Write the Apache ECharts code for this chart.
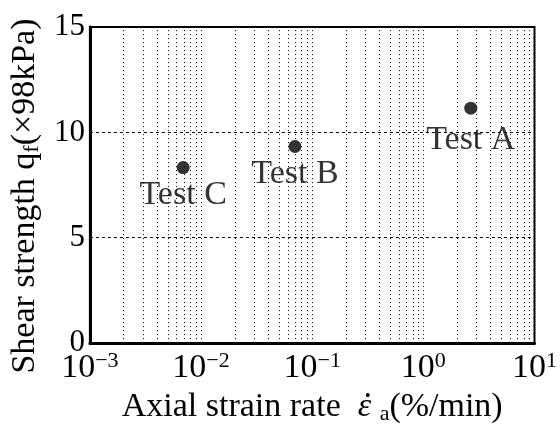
<!DOCTYPE html>
<html>
<head>
<meta charset="utf-8">
<script src="https://cdn.jsdelivr.net/npm/echarts@6/dist/echarts.min.js"></script>
<style>html,body{margin:0;padding:0;background:#fff}#c{width:560px;height:430px}</style>
</head>
<body>
<div id="c"></div>
<script>
// ---- data ----
const testNames = ['Test C', 'Test B', 'Test A'];
const strainRates = [0.0069, 0.070, 2.67];      // %/min
const shearStrengths = [8.33, 9.33, 11.15];     // x98kPa
const xTickExponents = [-3, -2, -1, 0, 1];
const yTicks = [0, 5, 10, 15];

const FONT = '"Liberation Serif", "Times New Roman", serif';
const chart = echarts.init(document.getElementById('c'), null, {renderer: 'canvas'});

// dotted grid lines at every 1..9 x 10^k inside the axis range
const gridLineValues = [];
for (let k = -3; k < 1; k++) {
  for (let m = 1; m <= 9; m++) {
    if (k === -3 && m === 1) continue;
    gridLineValues.push([m * Math.pow(10, k), 0]);
  }
}

const points = strainRates.map((x, i) => ({
  value: [x, shearStrengths[i]],
  name: testNames[i],
  label: {distance: i === 2 ? 8 : 4}
}));

chart.setOption({
  animation: false,
  grid: {left: 87, right: 22, top: 27, bottom: 80, show: true, borderColor: '#000', borderWidth: 2},
  xAxis: {
    type: 'log', min: 0.001, max: 10, logBase: 10,
    name: '{t|Axial strain rate  }{e|\u03B5}{t| }{sub|a}{t|(%/min)}',
    nameLocation: 'middle', nameGap: 42,
    nameTextStyle: {
      rich: {
        t: {fontFamily: FONT, fontSize: 34, color: '#000'},
        e: {fontFamily: FONT, fontSize: 34, fontStyle: 'italic', color: '#000'},
        sub: {fontFamily: FONT, fontSize: 22, color: '#000', padding: [14, 0, 0, 0]}
      }
    },
    axisLine: {lineStyle: {color: '#000', width: 3}},
    axisTick: {show: false},
    splitLine: {show: false},
    axisLabel: {
      margin: 7,
      formatter: v => {
        const e = Math.round(Math.log10(v));
        if (!xTickExponents.includes(e)) return '';
        return '{b|10}{s|' + String(e).replace('-', '\u2212') + '}';
      },
      rich: {
        b: {fontFamily: FONT, fontSize: 34, color: '#000'},
        s: {fontFamily: FONT, fontSize: 22, color: '#000', padding: [0, 0, 14, 0]}
      }
    }
  },
  yAxis: {
    type: 'value', min: 0, max: 15, interval: 5,
    name: '{t|Shear strength q}{sub|f}{t|(\u00D798kPa)}',
    nameLocation: 'middle', nameGap: 42, nameRotate: 90,
    nameTextStyle: {
      padding: [0, 22, 0, 0],
      rich: {
        t: {fontFamily: FONT, fontSize: 34, color: '#000'},
        sub: {fontFamily: FONT, fontSize: 22, color: '#000', padding: [14, 0, 0, 0]}
      }
    },
    axisLine: {lineStyle: {color: '#000', width: 3}},
    axisTick: {show: false},
    axisLabel: {
      margin: 5, fontFamily: FONT, fontSize: 31, color: '#000',
      formatter: v => yTicks.includes(v) ? String(v) : ''
    },
    splitLine: {show: true, lineStyle: {color: '#000', width: 1, type: [3, 3]}}
  },
  graphic: [{
    type: 'text', left: 365, top: 389, z: 10, silent: true,
    style: {text: '\u2022', font: '16px ' + FONT, fill: '#000'}
  }],
  series: [{
    type: 'custom',
    silent: true,
    data: gridLineValues,
    renderItem: (params, api) => {
      const x = Math.round(api.coord([api.value(0), 0])[0]) + 0.5;
      const yb = api.coord([api.value(0), 0])[1];
      const yt = api.coord([api.value(0), 15])[1];
      return {type: 'line', shape: {x1: x, y1: yb, x2: x, y2: yt},
              style: {stroke: '#000', lineWidth: 1, lineDash: [1, 3]}};
    },
    z: 1
  }, {
    type: 'scatter',
    symbol: 'circle', symbolSize: 13,
    itemStyle: {color: '#000'},
    label: {show: true, position: 'bottom', formatter: p => p.name,
            fontFamily: FONT, fontSize: 34, color: '#000'},
    data: points,
    z: 5
  }]
});
</script>
</body>
</html>
